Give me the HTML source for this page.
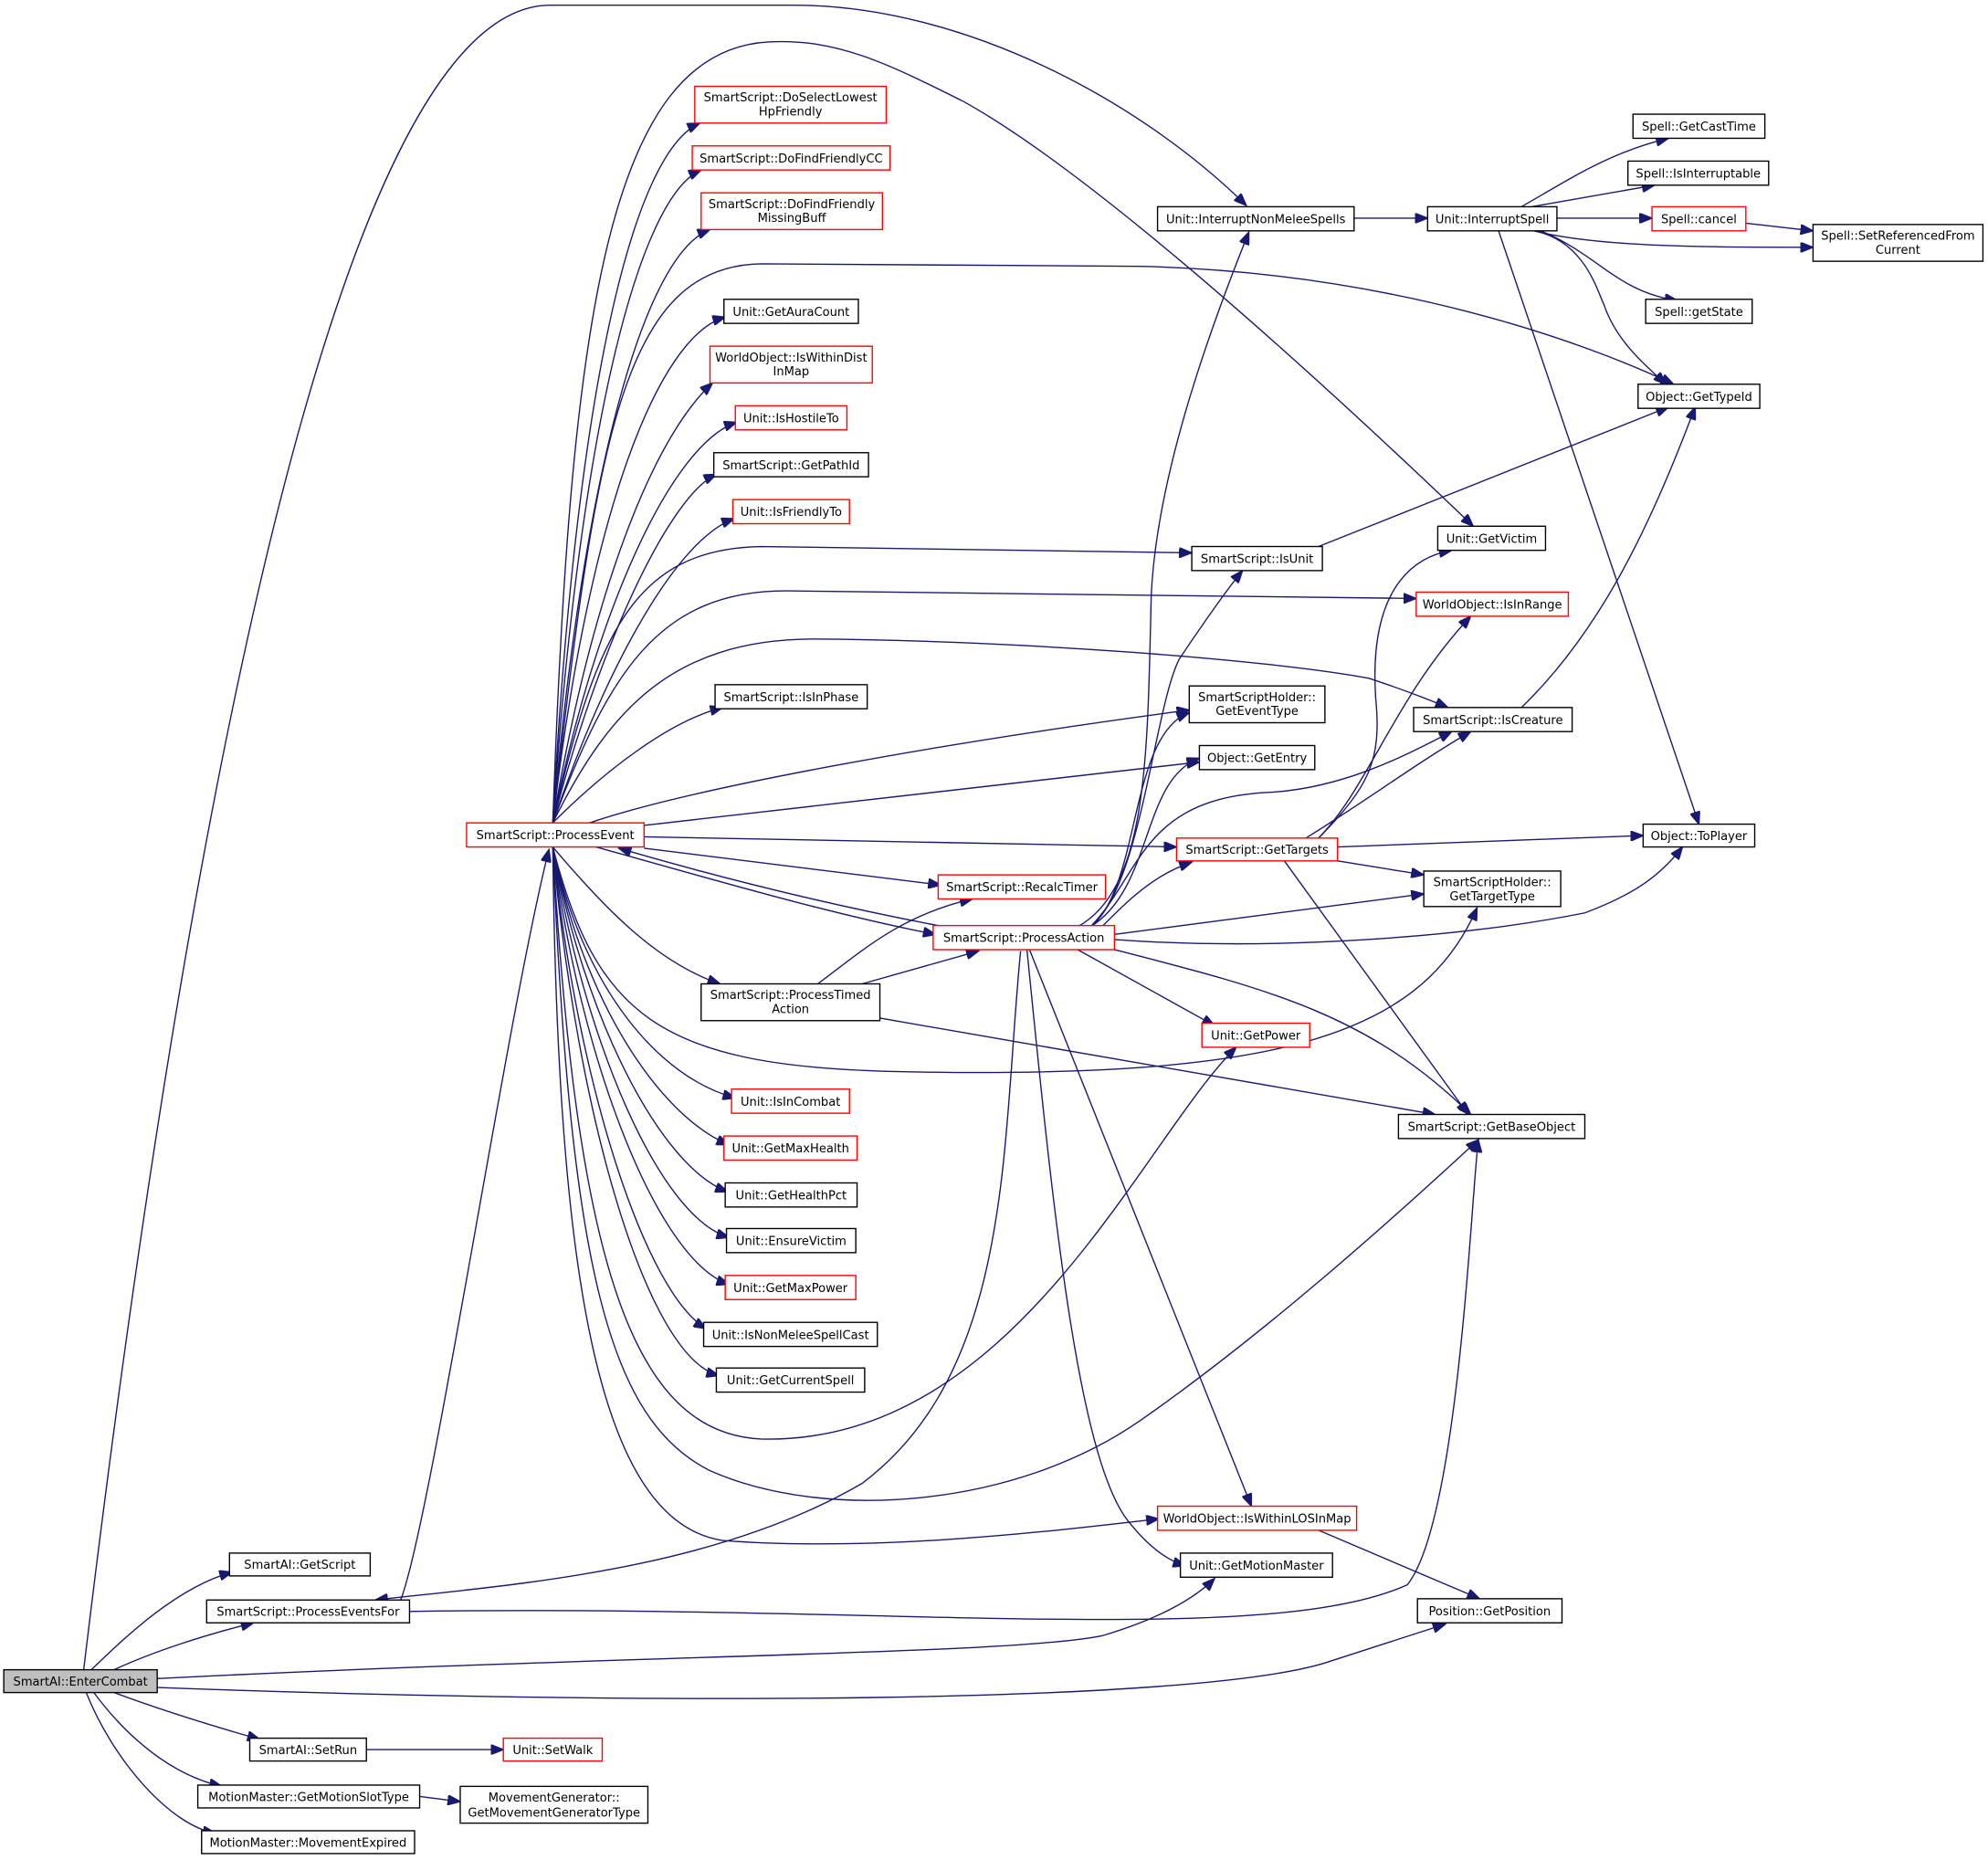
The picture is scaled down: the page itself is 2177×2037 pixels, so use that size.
<!DOCTYPE html>
<html><head><meta charset="utf-8"><style>
html,body{margin:0;padding:0;background:#fff;}
svg{display:block;}
text{font-family:"DejaVu Sans","Liberation Sans",sans-serif;font-size:9.4px;fill:#000;text-anchor:middle;}
.e{fill:none;stroke:#191970;stroke-width:1;marker-end:url(#a);}
.n{fill:#fff;stroke:#000;stroke-width:1;}
.r{fill:#fff;stroke:#ff0000;stroke-width:1;}
</style></head><body>
<svg width="2177" height="2037" viewBox="0 0 1568 1467" xmlns="http://www.w3.org/2000/svg">
<defs><marker id="a" markerUnits="userSpaceOnUse" markerWidth="11" markerHeight="8" refX="10" refY="4" orient="auto"><path d="M0,0 L10,4 L0,8 z" fill="#191970" stroke="#191970"/></marker></defs>

<!-- edges -->
<path class="e" d="M66,1317 C140,700 260,4 434,4 L626,4 C760,4 900,80 983,162"/>
<path class="e" d="M72,1317 C100,1290 140,1252 183,1240"/>
<path class="e" d="M90,1317 C120,1303 160,1290 200,1280"/>
<path class="e" d="M124,1324 C500,1305 800,1305 870,1290 C920,1275 945,1258 958,1245"/>
<path class="e" d="M124,1331 C500,1345 950,1345 1050,1310 L1140,1281"/>
<path class="e" d="M90,1335 C130,1350 170,1362 205,1372"/>
<path class="e" d="M74,1335 C100,1370 135,1400 175,1409"/>
<path class="e" d="M68,1335 C90,1390 135,1440 170,1446"/>
<path class="e" d="M316,1262 C340,1200 400,800 433,670"/>
<path class="e" d="M805,750 C790,900 800,1080 680,1170 C560,1240 400,1250 296,1262"/>
<path class="e" d="M323,1271 C700,1265 1000,1300 1110,1250 C1150,1200 1160,950 1166,899"/>
<path class="e" d="M436,649 C455,300 500,120 552,97"/>
<path class="e" d="M436,649 C458,330 505,155 553,134"/>
<path class="e" d="M436,649 C462,360 510,200 560,181"/>
<path class="e" d="M436,649 C470,350 490,210 600,208 L900,210 C1100,215 1250,270 1320,303"/>
<path class="e" d="M436,649 C450,250 480,40 606,33 C660,30 700,50 760,80 C850,130 1000,260 1162,415"/>
<path class="e" d="M436,649 C465,400 520,265 572,250"/>
<path class="e" d="M436,649 C470,450 520,340 562,302"/>
<path class="e" d="M436,649 C470,480 530,350 581,333"/>
<path class="e" d="M436,649 C475,500 530,390 565,374"/>
<path class="e" d="M436,649 C480,520 535,425 579,409"/>
<path class="e" d="M436,649 C470,500 500,433 600,431 L940,436"/>
<path class="e" d="M436,649 C480,530 520,466 620,466 L1117,472"/>
<path class="e" d="M436,649 C480,560 530,505 640,504 C800,505 1000,520 1080,535 C1110,545 1130,553 1142,558"/>
<path class="e" d="M436,649 C480,605 530,568 570,558"/>
<path class="e" d="M465,649 C550,620 750,585 938,560"/>
<path class="e" d="M508,651 L946,601"/>
<path class="e" d="M508,660 L928,668"/>
<path class="e" d="M508,669 L742,698"/>
<path class="e" d="M470,668 C550,690 650,720 738,737"/>
<path class="e" d="M745,731 C650,713 560,690 488,669"/>
<path class="e" d="M436,668 C480,720 520,760 568,776"/>
<path class="e" d="M436,668 C470,800 520,840 700,845 C1000,852 1120,820 1165,716"/>
<path class="e" d="M436,668 C460,780 520,850 580,866"/>
<path class="e" d="M436,668 C460,790 520,880 575,903"/>
<path class="e" d="M436,668 C460,800 520,920 574,940"/>
<path class="e" d="M436,668 C460,820 520,960 575,976"/>
<path class="e" d="M436,668 C458,840 520,995 575,1013"/>
<path class="e" d="M436,668 C456,860 510,1020 557,1048"/>
<path class="e" d="M436,668 C455,880 510,1070 567,1085"/>
<path class="e" d="M436,668 C455,1000 500,1130 600,1135 C800,1140 900,900 975,826"/>
<path class="e" d="M436,668 C450,1000 480,1120 560,1160 C650,1200 800,1190 900,1120 C1000,1050 1100,960 1166,899"/>
<path class="e" d="M436,668 C440,1000 470,1200 570,1215 C700,1225 850,1205 914,1198"/>
<path class="e" d="M645,776 C680,750 710,722 767,709"/>
<path class="e" d="M680,776 L772,750"/>
<path class="e" d="M694,803 L1132,879"/>
<path class="e" d="M850,731 C905,700 905,600 908,470 C912,380 950,270 985,183"/>
<path class="e" d="M860,731 C900,700 910,560 930,520 C950,490 970,462 980,450"/>
<path class="e" d="M860,731 C900,700 890,580 938,562"/>
<path class="e" d="M860,731 C910,700 900,615 946,598"/>
<path class="e" d="M860,731 C900,690 900,630 1000,625 C1060,622 1110,595 1145,577"/>
<path class="e" d="M870,730 C890,710 910,690 940,680"/>
<path class="e" d="M879,737 L1123,705"/>
<path class="e" d="M879,741 C1000,750 1150,740 1250,720 C1290,705 1310,690 1327,668"/>
<path class="e" d="M850,749 L958,809"/>
<path class="e" d="M879,749 C1000,780 1080,800 1160,879"/>
<path class="e" d="M812,749 L987,1188"/>
<path class="e" d="M810,749 C830,950 850,1150 890,1200 C910,1225 925,1232 935,1235"/>
<path class="e" d="M1040,661 C1080,620 1090,600 1085,550 C1080,470 1110,440 1145,434"/>
<path class="e" d="M1040,661 C1080,620 1100,550 1160,486"/>
<path class="e" d="M1030,661 C1080,630 1120,600 1160,577"/>
<path class="e" d="M1055,668 L1296,659"/>
<path class="e" d="M1055,679 L1123,690"/>
<path class="e" d="M1013,679 L1158,879"/>
<path class="e" d="M1200,558 C1260,500 1300,420 1337,321"/>
<path class="e" d="M1040,431 L1316,321"/>
<path class="e" d="M1068,172 L1126,172"/>
<path class="e" d="M1200,163 C1240,140 1270,120 1316,109"/>
<path class="e" d="M1208,163 L1305,146"/>
<path class="e" d="M1228,172 L1303,172"/>
<path class="e" d="M1210,182 C1260,195 1350,195 1430,195"/>
<path class="e" d="M1215,182 C1260,200 1275,230 1323,237"/>
<path class="e" d="M1210,182 C1250,190 1260,230 1265,240 C1275,270 1300,290 1314,303"/>
<path class="e" d="M1182,182 L1340,650"/>
<path class="e" d="M1377,176 L1430,182"/>
<path class="e" d="M289,1380 L397,1380"/>
<path class="e" d="M331,1417 L363,1421"/>
<path class="e" d="M1040,1207 L1167,1261"/>

<!-- nodes -->
<rect x="3" y="1317" width="121" height="18" fill="#bfbfbf" stroke="#000"/><text x="63.5" y="1329.5">SmartAI::EnterCombat</text>
<rect class="n" x="181" y="1225" width="111" height="18"/><text x="236.5" y="1237.5">SmartAI::GetScript</text>
<rect class="n" x="163" y="1262" width="160" height="18"/><text x="243" y="1274.5">SmartScript::ProcessEventsFor</text>
<rect class="n" x="197" y="1371" width="92" height="18"/><text x="243" y="1383.5">SmartAI::SetRun</text>
<rect class="n" x="156" y="1408" width="175" height="18"/><text x="243.5" y="1420.5">MotionMaster::GetMotionSlotType</text>
<rect class="n" x="159" y="1444" width="168" height="18"/><text x="243" y="1456.5">MotionMaster::MovementExpired</text>
<rect class="r" x="397" y="1371" width="78" height="18"/><text x="436" y="1383.5">Unit::SetWalk</text>
<rect class="n" x="363" y="1409" width="148" height="29"/><text x="437" y="1421">MovementGenerator::</text><text x="437" y="1433">GetMovementGeneratorType</text>
<rect class="r" x="368" y="649" width="140" height="19"/><text x="438" y="662">SmartScript::ProcessEvent</text>

<rect class="r" x="548" y="68" width="151" height="29"/><text x="623.5" y="80">SmartScript::DoSelectLowest</text><text x="623.5" y="91">HpFriendly</text>
<rect class="r" x="546" y="115" width="156" height="19"/><text x="624" y="128">SmartScript::DoFindFriendlyCC</text>
<rect class="r" x="553" y="152" width="143" height="29"/><text x="624.5" y="164">SmartScript::DoFindFriendly</text><text x="624.5" y="175">MissingBuff</text>
<rect class="n" x="571" y="236" width="106" height="19"/><text x="624" y="249">Unit::GetAuraCount</text>
<rect class="r" x="560" y="273" width="128" height="29"/><text x="624" y="285">WorldObject::IsWithinDist</text><text x="624" y="296">InMap</text>
<rect class="r" x="580" y="320" width="88" height="19"/><text x="624" y="333">Unit::IsHostileTo</text>
<rect class="n" x="563" y="357" width="122" height="19"/><text x="624" y="370">SmartScript::GetPathId</text>
<rect class="r" x="578" y="394" width="92" height="19"/><text x="624" y="407">Unit::IsFriendlyTo</text>
<rect class="n" x="564" y="540" width="120" height="19"/><text x="624" y="553">SmartScript::IsInPhase</text>
<rect class="n" x="553" y="776" width="141" height="29"/><text x="623.5" y="788">SmartScript::ProcessTimed</text><text x="623.5" y="799">Action</text>
<rect class="r" x="577" y="859" width="93" height="19"/><text x="623.5" y="872">Unit::IsInCombat</text>
<rect class="r" x="571" y="896" width="105" height="19"/><text x="623.5" y="909">Unit::GetMaxHealth</text>
<rect class="n" x="572" y="933" width="104" height="19"/><text x="624" y="946">Unit::GetHealthPct</text>
<rect class="n" x="573" y="969" width="102" height="19"/><text x="624" y="982">Unit::EnsureVictim</text>
<rect class="r" x="572" y="1006" width="103" height="19"/><text x="623.5" y="1019">Unit::GetMaxPower</text>
<rect class="n" x="555" y="1043" width="137" height="19"/><text x="623.5" y="1056">Unit::IsNonMeleeSpellCast</text>
<rect class="n" x="565" y="1079" width="117" height="19"/><text x="623.5" y="1092">Unit::GetCurrentSpell</text>

<rect class="r" x="740" y="690" width="132" height="19"/><text x="806" y="703">SmartScript::RecalcTimer</text>
<rect class="r" x="736" y="730" width="143" height="19"/><text x="807.5" y="743">SmartScript::ProcessAction</text>
<rect class="r" x="948" y="807" width="85" height="19"/><text x="990.5" y="820">Unit::GetPower</text>
<rect class="n" x="1103" y="879" width="147" height="19"/><text x="1176.5" y="892">SmartScript::GetBaseObject</text>
<rect class="r" x="913" y="1188" width="157" height="19"/><text x="991.5" y="1201">WorldObject::IsWithinLOSInMap</text>
<rect class="n" x="931" y="1225" width="120" height="19"/><text x="991" y="1238">Unit::GetMotionMaster</text>
<rect class="n" x="1118" y="1261" width="114" height="19"/><text x="1175" y="1274">Position::GetPosition</text>

<rect class="n" x="913" y="163" width="155" height="19"/><text x="990.5" y="176">Unit::InterruptNonMeleeSpells</text>
<rect class="n" x="1126" y="163" width="102" height="19"/><text x="1177" y="176">Unit::InterruptSpell</text>
<rect class="n" x="1288" y="90" width="104" height="19"/><text x="1340" y="103">Spell::GetCastTime</text>
<rect class="n" x="1284" y="127" width="111" height="19"/><text x="1339.5" y="140">Spell::IsInterruptable</text>
<rect class="r" x="1303" y="163" width="74" height="19"/><text x="1340" y="176">Spell::cancel</text>
<rect class="n" x="1430" y="177" width="134" height="29"/><text x="1497" y="189">Spell::SetReferencedFrom</text><text x="1497" y="200">Current</text>
<rect class="n" x="1298" y="236" width="84" height="19"/><text x="1340" y="249">Spell::getState</text>
<rect class="n" x="1292" y="303" width="96" height="19"/><text x="1340" y="316">Object::GetTypeId</text>
<rect class="n" x="1134" y="415" width="85" height="19"/><text x="1176.5" y="428">Unit::GetVictim</text>
<rect class="n" x="940" y="431" width="103" height="19"/><text x="991.5" y="444">SmartScript::IsUnit</text>
<rect class="r" x="1117" y="467" width="120" height="19"/><text x="1177" y="480">WorldObject::IsInRange</text>
<rect class="n" x="938" y="541" width="107" height="29"/><text x="991.5" y="553">SmartScriptHolder::</text><text x="991.5" y="564">GetEventType</text>
<rect class="n" x="1115" y="558" width="125" height="19"/><text x="1177.5" y="571">SmartScript::IsCreature</text>
<rect class="n" x="946" y="588" width="91" height="19"/><text x="991.5" y="601">Object::GetEntry</text>
<rect class="r" x="928" y="661" width="127" height="18"/><text x="991.5" y="673.5">SmartScript::GetTargets</text>
<rect class="n" x="1296" y="650" width="88" height="18"/><text x="1340" y="662.5">Object::ToPlayer</text>
<rect class="n" x="1123" y="687" width="108" height="28"/><text x="1177" y="699">SmartScriptHolder::</text><text x="1177" y="710">GetTargetType</text>
</svg>
</body></html>
